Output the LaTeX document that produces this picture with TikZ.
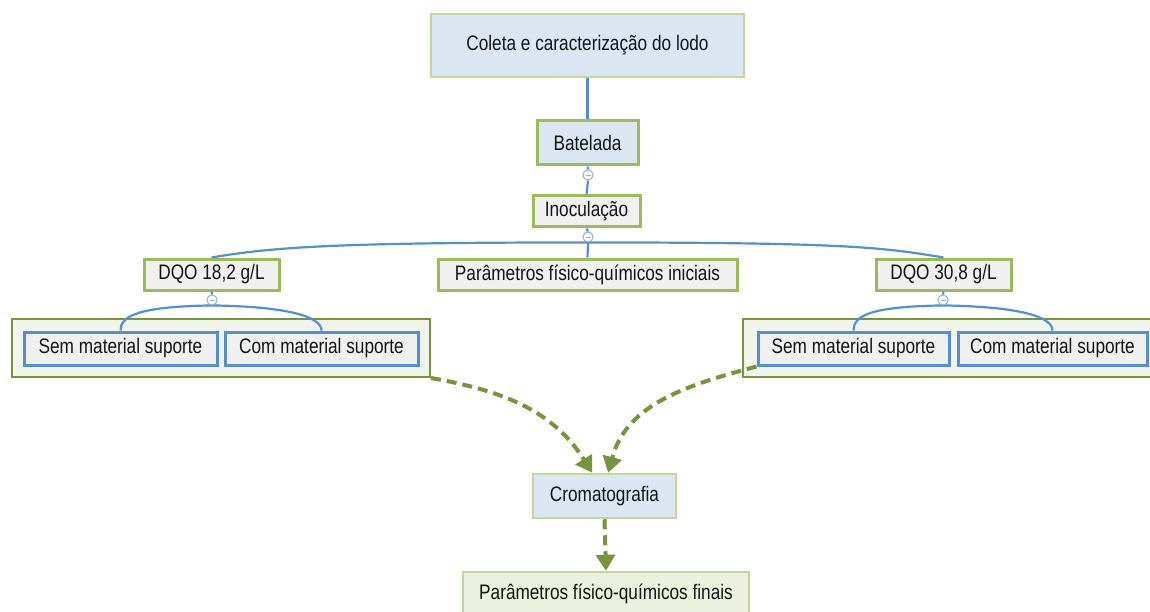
\documentclass[tikz,border=0pt]{standalone}
\usepackage{fontspec}
\setmainfont[FakeStretch=0.82]{Liberation Sans}
\usetikzlibrary{arrows.meta}
\definecolor{lblue}{HTML}{DCE6F2}
\definecolor{lgray}{HTML}{F0F0F0}
\definecolor{gbord}{HTML}{9BBB59}
\definecolor{lgbord}{HTML}{C3D69B}
\definecolor{dgreen}{HTML}{77933C}
\definecolor{grpfill}{HTML}{F0F4EA}
\definecolor{finfill}{HTML}{EBF1DE}
\definecolor{bline}{HTML}{558ED5}
\definecolor{kbord}{HTML}{95B3D7}
\definecolor{txt}{HTML}{141414}
\tikzset{
  base/.style={rectangle, inner sep=0pt, text=txt, font=\fontsize{21}{25}\selectfont},
  mainbox/.style={base, fill=lblue, draw=lgbord, line width=2.5pt},
  batbox/.style={base, fill=lblue, draw=gbord, line width=3pt},
  graybox/.style={base, fill=lgray, draw=gbord, line width=3pt},
  grpbox/.style={rectangle, fill=grpfill, draw=dgreen, line width=2pt},
  subbox/.style={base, fill=lgray, draw=bline, line width=3pt},
  finbox/.style={base, fill=finfill, draw=lgbord, line width=2.5pt},
  bl/.style={draw=bline, line width=2.2pt},
  knob/.style={circle, fill=white, draw=kbord, line width=0.9pt, minimum size=10pt, inner sep=0pt,
    path picture={\draw[kbord, line width=0.8pt] ([xshift=-2.5pt]path picture bounding box.center) -- ([xshift=2.5pt]path picture bounding box.center);}},
  flow/.style={draw=dgreen, line width=4pt, dash pattern=on 10pt off 6pt,
    -{Triangle[length=16pt,width=19pt]}},
}
\begin{document}
\begin{tikzpicture}[x=1pt,y=-1pt]
\useasboundingbox (0,0) rectangle (1150,612);
\fill[white] (0,0) rectangle (1150,612);

\node[mainbox, minimum width=313pt, minimum height=63pt] (top) at (587.5,45.5) {Coleta e caracterização do lodo};
\node[batbox, minimum width=101pt, minimum height=44pt] (bat) at (587.5,143) {Batelada};
\node[graybox, minimum width=107pt, minimum height=31pt] (inoc) at (586.5,211.5) {Inoculação};
\node[graybox, minimum width=135pt, minimum height=31pt] (dqo1) at (211.5,274.5) {DQO 18,2 g/L};
\node[graybox, minimum width=299pt, minimum height=31pt] (pini) at (587.5,274.5) {Parâmetros físico-químicos iniciais};
\node[graybox, minimum width=135pt, minimum height=31pt] (dqo2) at (943.5,274.5) {DQO 30,8 g/L};

\node[grpbox, minimum width=418pt, minimum height=58pt] (g1) at (221,348) {};
\node[subbox, minimum width=193pt, minimum height=33pt] (s1) at (120.5,348.5) {Sem material suporte};
\node[subbox, minimum width=193pt, minimum height=33pt] (c1) at (321.5,348.5) {Com material suporte};

\node[grpbox, minimum width=416pt, minimum height=58pt] (g2) at (951,348) {};
\node[subbox, minimum width=191pt, minimum height=33pt] (s2) at (853.5,348.5) {Sem material suporte};
\node[subbox, minimum width=189pt, minimum height=33pt] (c2) at (1052.5,348.5) {Com material suporte};

\node[mainbox, minimum width=143pt, minimum height=44pt] (crom) at (604.5,496) {Cromatografia};
\node[finbox, minimum width=286pt, minimum height=44pt] (fin) at (606,594) {Parâmetros físico-químicos finais};

% collapse knobs
\node[knob] (k1) at (588,175) {};
\node[knob] (k2) at (588,237) {};
\node[knob] (kl) at (212,300) {};
\node[knob] (kr) at (943,300) {};

% tree connectors
\draw[bl] (top.south) -- (bat.north);
\draw[bl] (bat.south) -- (k1.north);
\draw[bl] (k1.south) -- (inoc.north);
\draw[bl] (inoc.south) -- (k2.north);
\draw[bl] (k2.south) -- (pini.north);
\draw[bl] (k2.south) .. controls +(-260,0) and +(60,-10) .. (dqo1.north);
\draw[bl] (k2.south) .. controls +(260,0) and +(-60,-10) .. (dqo2.north);
\draw[bl] (dqo1.south) -- (kl.north);
\draw[bl] (dqo2.south) -- (kr.north);
\draw[bl] (kl.south) .. controls +(-75,1) and +(0,-14) .. (s1.north);
\draw[bl] (kl.south) .. controls +(75,1) and +(0,-14) .. (c1.north);
\draw[bl] (kr.south) .. controls +(-75,1) and +(0,-14) .. (s2.north);
\draw[bl] (kr.south) .. controls +(75,1) and +(0,-14) .. (c2.north);
% redraw knobs on top
\node[knob] at (k1) {};
\node[knob] at (k2) {};
\node[knob] at (kl) {};
\node[knob] at (kr) {};

% flow arrows
\draw[flow] (g1.south east) to[out=-10,in=122] (crom.118);
\draw[flow] (s2.south west) to[out=195,in=75] (crom.81);
\draw[flow] (crom.south) -- (fin.north);
\end{tikzpicture}
\end{document}
